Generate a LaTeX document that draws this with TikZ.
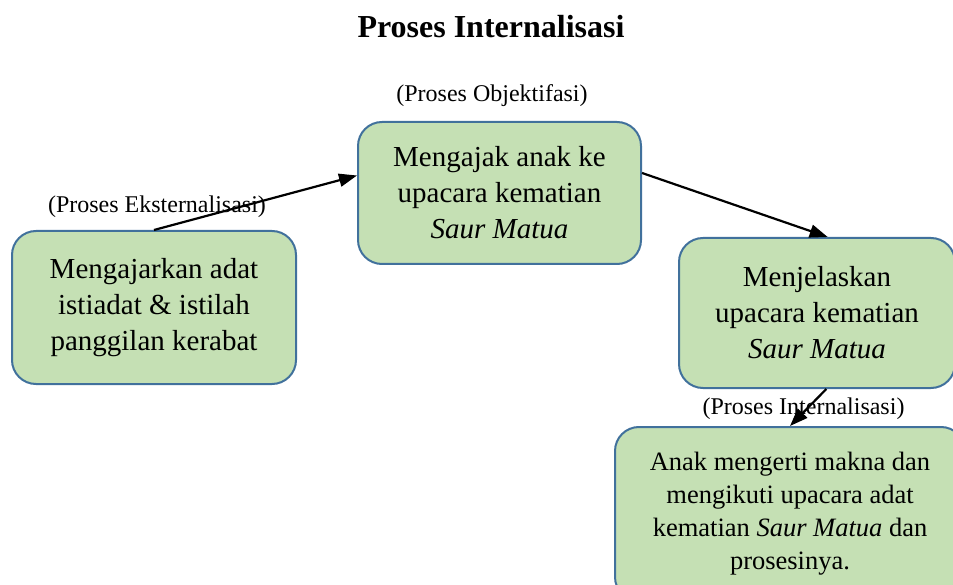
\documentclass[tikz,border=0pt]{standalone}
\usepackage{fontspec}
\setmainfont{Liberation Serif}
\usepackage{tikz}
\usetikzlibrary{arrows.meta}
\usetikzlibrary{shapes}
\usetikzlibrary{positioning}

\definecolor{boxfill}{HTML}{C5E0B4}
\definecolor{boxline}{HTML}{41719C}

\begin{document}
\begin{tikzpicture}[x=1pt,y=1pt]
            \tikzset{box/.style={rectangle, rounded corners=24pt, draw=boxline, fill=boxfill,
                        line width=2pt, align=center, inner sep=0pt,
                        font=\fontsize{29}{36}\selectfont},
                    lbl/.style={font=\fontsize{24}{28}\selectfont},
                    >={Triangle[length=18pt,width=13pt]},
                    every edge/.style={draw=black,line width=2.2pt}}
            \useasboundingbox (0,0) rectangle (953,-585);
            \clip (0,0) rectangle (953,-585);
            \node[font=\bfseries\fontsize{32}{36}\selectfont] (t) at (491,-27) {Proses Internalisasi};
            \node[box, minimum width=284pt, minimum height=153pt] (1) at (154,-307.5)
                {Mengajarkan adat\\istiadat \& istilah\\panggilan kerabat};
            \node[box, minimum width=283pt, minimum height=142pt] (2) at (499.5,-193)
                {Mengajak anak ke\\upacara kematian\\\textit{Saur Matua}};
            \node[box, minimum width=276pt, minimum height=150pt] (3) at (817,-313)
                {Menjelaskan\\upacara kematian\\\textit{Saur Matua}};
            \node[box, minimum width=350pt, minimum height=174pt,
                  font=\fontsize{26.5}{33}\selectfont] (4) at (790,-514)
                {Anak mengerti makna dan\\mengikuti upacara adat\\kematian \textit{Saur Matua} dan\\prosesinya.};
            \node[lbl] (l1) at (157,-207) {(Proses Eksternalisasi)};
            \node[lbl] (l2) at (492,-96) {(Proses Objektifasi)};
            \node[lbl] (l3) at (803.5,-409) {(Proses Internalisasi)};
            \path [->] (1.north) edge (2.173);
            \path [->] (2.8) edge (3.82);
            \path [->] (3.277) edge (4.north);
        \end{tikzpicture}
\end{document}
